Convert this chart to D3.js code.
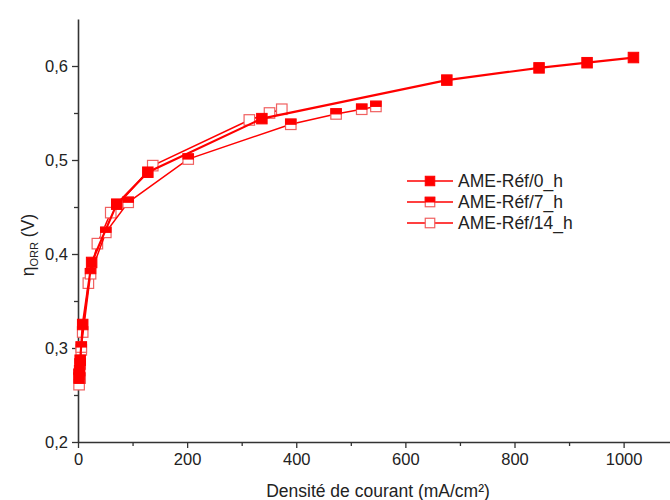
<!DOCTYPE html>
<html>
<head>
<meta charset="utf-8">
<script src="https://cdn.jsdelivr.net/npm/d3@7"></script>
<style>
  body { margin: 0; background: #fff; }
  text { font-family: "Liberation Sans", Arial, sans-serif; }
</style>
</head>
<body>
<div id="chart"></div>
<script>
// current density (mA/cm²) and overpotential (V)
const x0h = [2, 3, 4, 8.6, 25, 71, 128, 337, 676, 845, 933, 1018];
const y0h = [0.268, 0.276, 0.287, 0.325, 0.391, 0.453, 0.487, 0.544, 0.585, 0.598, 0.6035, 0.609];

const x7h = [2, 4, 6, 23, 51, 92, 202, 390, 473, 520, 546];
const y7h = [0.272, 0.283, 0.301, 0.379, 0.423, 0.455, 0.501, 0.538, 0.549, 0.554, 0.557];

const x14h = [2, 4, 6, 8.6, 19, 35.5, 60, 137, 314, 351, 373.5];
const y14h = [0.261, 0.268, 0.298, 0.317, 0.369, 0.411, 0.444, 0.494, 0.5426, 0.550, 0.554];

const seriesNames = ['AME-Réf/0_h', 'AME-Réf/7_h', 'AME-Réf/14_h'];
const markerKinds = ['full', 'half', 'open'];
const xTicks = [0, 200, 400, 600, 800, 1000];
const yTicks = [0.2, 0.3, 0.4, 0.5, 0.6];

const svgWidth = 670, svgHeight = 500;
const red = '#ff0000';
const fontFam = '"Liberation Sans", Arial, sans-serif';

const svg = d3.select('#chart').append('svg')
    .attr('width', svgWidth)
    .attr('height', svgHeight);

const xScale = d3.scaleLinear().domain([0, 1085]).range([78, 670]);
const yScale = d3.scaleLinear().domain([0.2, 0.65]).range([442, 19]);

const comma = d => d3.format('.1f')(d).replace('.', ',');

// minor ticks
svg.append('g')
    .attr('transform', 'translate(0,442)')
    .call(d3.axisBottom(xScale).tickValues(d3.range(100, 1085, 200)).tickSize(4).tickFormat(''))
    .call(g => g.select('.domain').remove())
    .selectAll('line').attr('stroke', '#333').attr('stroke-width', 1.3);
svg.append('g')
    .attr('transform', 'translate(78,0)')
    .call(d3.axisLeft(yScale).tickValues([0.25, 0.35, 0.45, 0.55]).tickSize(4).tickFormat(''))
    .call(g => g.select('.domain').remove())
    .selectAll('line').attr('stroke', '#333').attr('stroke-width', 1.3);

// x axis
const gx = svg.append('g')
    .attr('transform', 'translate(0,442)')
    .call(d3.axisBottom(xScale).tickValues(xTicks).tickFormat(d3.format('d'))
        .tickSize(6).tickSizeOuter(0).tickPadding(5));
gx.select('.domain').attr('stroke', '#333').attr('stroke-width', 1.6);
gx.selectAll('line').attr('stroke', '#333').attr('stroke-width', 1.3);
gx.selectAll('text').attr('font-size', 16.5).attr('fill', '#222').attr('font-family', fontFam);

// y axis
const gy = svg.append('g')
    .attr('transform', 'translate(78,0)')
    .call(d3.axisLeft(yScale).tickValues(yTicks).tickFormat(comma)
        .tickSize(6).tickSizeOuter(0).tickPadding(4));
gy.select('.domain').attr('stroke', '#333').attr('stroke-width', 1.6);
gy.selectAll('line').attr('stroke', '#333').attr('stroke-width', 1.3);
gy.selectAll('text').attr('font-size', 16.5).attr('fill', '#222').attr('font-family', fontFam);

// axis titles
svg.append('text')
    .attr('x', 378)
    .attr('y', 497)
    .attr('text-anchor', 'middle')
    .attr('font-size', 17.5)
    .attr('fill', '#222')
    .text('Densité de courant (mA/cm²)');

const yl = svg.append('text')
    .attr('transform', 'translate(34,245) rotate(-90)')
    .attr('text-anchor', 'middle')
    .attr('font-size', 17.5)
    .attr('fill', '#222');
yl.append('tspan').text('η');
yl.append('tspan').attr('font-size', 11).attr('dy', 4).text('ORR');
yl.append('tspan').attr('dy', -4).text(' (V)');

// series
const allSeries = [
    { xs: x0h, ys: y0h, width: 2.2 },
    { xs: x7h, ys: y7h, width: 1.5 },
    { xs: x14h, ys: y14h, width: 1.5 }
];

const line = d3.line().x(d => xScale(d[0])).y(d => yScale(d[1]));

function drawMarker(g, cx, cy, size, kind) {
    const h = size / 2;
    if (kind === 'full') {
        g.append('rect').attr('x', cx - h).attr('y', cy - h).attr('width', size).attr('height', size)
            .attr('fill', red).attr('stroke', red).attr('stroke-width', 1);
    } else if (kind === 'open') {
        g.append('rect').attr('x', cx - h).attr('y', cy - h).attr('width', size).attr('height', size)
            .attr('fill', '#fff').attr('stroke', '#f06060').attr('stroke-width', 1.2);
    } else {
        g.append('rect').attr('x', cx - h).attr('y', cy - h).attr('width', size).attr('height', size)
            .attr('fill', '#fff').attr('stroke', '#f06060').attr('stroke-width', 1.2);
        g.append('rect').attr('x', cx - h).attr('y', cy - h).attr('width', size).attr('height', h)
            .attr('fill', red).attr('stroke', red).attr('stroke-width', 1);
    }
}

// draw in reverse so the 0_h series sits on top
[2, 1, 0].forEach(i => {
    const s = allSeries[i];
    const pts = s.xs.map((x, j) => [x, s.ys[j]]);
    const g = svg.append('g');
    g.append('path')
        .attr('d', line(pts))
        .attr('fill', 'none')
        .attr('stroke', red)
        .attr('stroke-width', s.width);
    pts.forEach(p => drawMarker(g, xScale(p[0]), yScale(p[1]), 10.5, markerKinds[i]));
});

// legend
const legend = svg.append('g');
seriesNames.forEach((name, i) => {
    const y = 181 + i * 21;
    legend.append('line')
        .attr('x1', 407).attr('x2', 453).attr('y1', y).attr('y2', y)
        .attr('stroke', red).attr('stroke-width', 1.5);
    drawMarker(legend, 430, y, 9.5, markerKinds[i]);
    legend.append('text')
        .attr('x', 458)
        .attr('y', y + 6)
        .attr('font-size', 17.5)
        .attr('fill', '#222')
        .text(name);
});
</script>
</body>
</html>
